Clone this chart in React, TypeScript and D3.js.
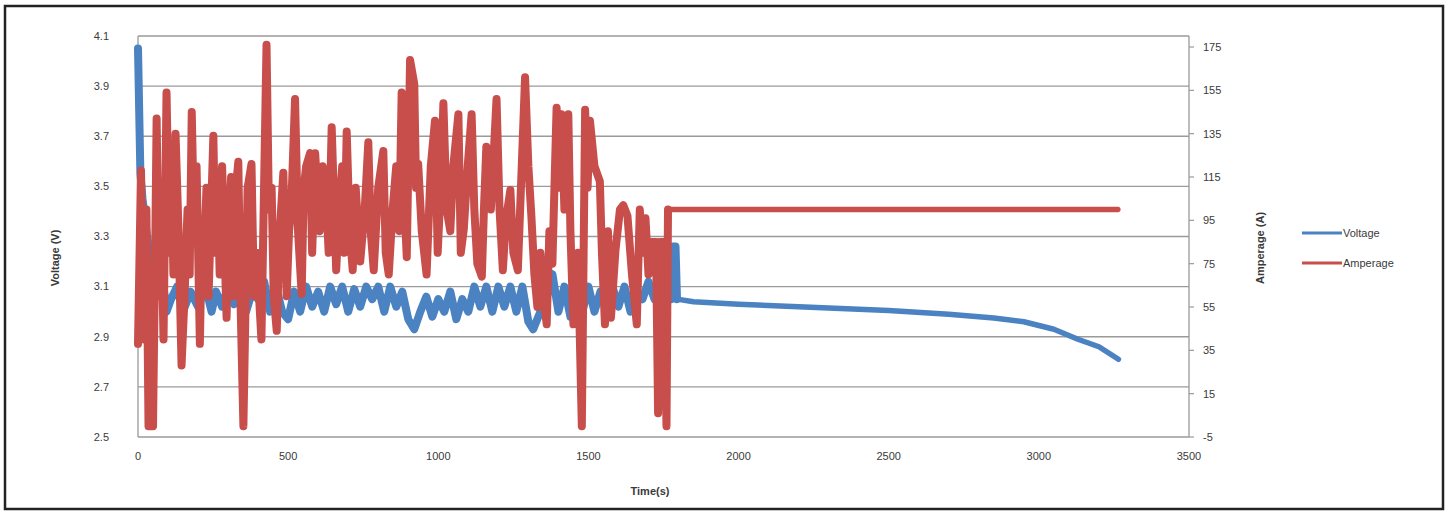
import React from "react";
import * as d3 from "d3";

const voltageTime = [0, 8, 15, 30, 60, 80, 95, 110, 130, 150, 175, 200, 225, 245, 260, 280, 300, 320, 340, 360, 380, 400, 420, 440, 460, 480, 500, 520, 540, 560, 580, 600, 620, 640, 660, 680, 700, 720, 740, 760, 780, 800, 820, 840, 860, 880, 900, 920, 940, 960, 980, 1000, 1020, 1040, 1060, 1080, 1100, 1120, 1140, 1160, 1180, 1200, 1220, 1240, 1260, 1280, 1300, 1316, 1340, 1360, 1380, 1400, 1420, 1440, 1460, 1480, 1500, 1520, 1540, 1560, 1580, 1600, 1620, 1640, 1660, 1680, 1700, 1720, 1740, 1760, 1775, 1780, 1790, 1795, 1850, 2000, 2200, 2500, 2700, 2850, 2950, 3050, 3130, 3200, 3265];
const voltage = [4.05, 3.55, 3.45, 3.3, 3.1, 3.15, 3.0, 3.05, 3.1, 3.0, 3.08, 3.02, 3.1, 3.0, 3.08, 3.02, 3.1, 3.03, 3.1, 3.0, 3.08, 3.05, 3.12, 3.0, 3.1, 3.0, 2.97, 3.08, 3.0, 3.1, 3.02, 3.08, 3.0, 3.1, 3.03, 3.1, 3.0, 3.09, 3.02, 3.1, 3.05, 3.1, 3.0, 3.1, 3.02, 3.08, 2.97, 2.93, 3.0, 3.06, 2.98, 3.05, 3.0, 3.08, 2.97, 3.05, 3.0, 3.1, 3.02, 3.1, 3.0, 3.1, 3.02, 3.1, 3.0, 3.1, 2.96, 2.93, 3.0, 3.05, 3.15, 3.0, 3.1, 2.98, 3.05, 3.0, 3.1, 3.0, 3.08, 3.0, 3.1, 3.02, 3.1, 3.0, 3.08, 3.05, 3.12, 3.05, 3.1, 3.05, 3.05, 3.26, 3.26, 3.05, 3.04, 3.03, 3.02, 3.005, 2.99, 2.975, 2.96, 2.93, 2.89, 2.86, 2.81];

const ampTime = [0, 10, 20, 28, 35, 50, 58, 62, 70, 75, 85, 95, 105, 110, 118, 125, 135, 145, 155, 165, 172, 179, 187, 195, 206, 213, 220, 228, 235, 251, 258, 265, 272, 280, 295, 302, 310, 318, 326, 334, 341, 351, 365, 378, 386, 395, 411, 428, 436, 445, 452, 462, 472, 484, 495, 503, 510, 523, 533, 545, 552, 560, 573, 580, 590, 605, 615, 625, 635, 645, 660, 670, 680, 687, 695, 705, 715, 725, 740, 755, 767, 775, 785, 800, 817, 825, 835, 848, 860, 870, 878, 888, 895, 906, 920, 926, 933, 945, 961, 975, 989, 998, 1008, 1017, 1028, 1040, 1050, 1067, 1075, 1085, 1098, 1111, 1120, 1130, 1145, 1152, 1160, 1175, 1194, 1204, 1215, 1225, 1240, 1250, 1265, 1289, 1300, 1310, 1320, 1330, 1340, 1350, 1361, 1370, 1380, 1394, 1402, 1410, 1420, 1433, 1440, 1450, 1465, 1478, 1489, 1497, 1505, 1520, 1538, 1545, 1555, 1565, 1575, 1590, 1605, 1616, 1630, 1645, 1661, 1671, 1680, 1690, 1700, 1710, 1725, 1732, 1740, 1750, 1760, 1765, 3263];
const amperage = [38, 118, 40, 100, 0, 0, 90, 142, 60, 110, 40, 154, 80, 124, 70, 135, 90, 28, 60, 100, 70, 145, 90, 120, 38, 90, 78, 110, 60, 134, 80, 110, 70, 120, 50, 90, 115, 60, 110, 122, 60, 0, 110, 121, 60, 80, 40, 176, 100, 110, 60, 44, 90, 117, 60, 90, 100, 151, 90, 61, 110, 120, 126, 80, 126, 90, 120, 110, 80, 138, 72, 100, 120, 80, 136, 90, 72, 110, 76, 100, 131, 90, 72, 110, 127, 80, 70, 100, 120, 90, 154, 100, 78, 169, 158, 110, 121, 90, 70, 120, 141, 80, 110, 149, 100, 90, 120, 144, 80, 91, 120, 144, 100, 75, 69, 100, 129, 100, 151, 100, 72, 95, 109, 80, 72, 161, 120, 97, 70, 55, 80, 60, 47, 90, 75, 147, 110, 144, 100, 144, 90, 47, 80, 0, 146, 110, 141, 120, 113, 80, 47, 90, 50, 81, 100, 102, 97, 70, 47, 100, 80, 96, 70, 85, 85, 6, 85, 85, 0, 100, 100];

const xTicks = [0, 500, 1000, 1500, 2000, 2500, 3000, 3500];
const voltTicks = [2.5, 2.7, 2.9, 3.1, 3.3, 3.5, 3.7, 3.9, 4.1];
const ampTicks = [-5, 15, 35, 55, 75, 95, 115, 135, 155, 175];
const seriesNames = ["Voltage", "Amperage"];

const BLUE = "#4a82c2";
const RED = "#c84e4c";
const FONT = "'Liberation Sans', Arial, sans-serif";
const TXT = "#3a3a3a";

export default function App() {
  const left = 138, right = 1189, top = 36, bottom = 437;
  const x = d3.scaleLinear().domain([0, 3500]).range([left, right]);
  const yV = d3.scaleLinear().domain([2.5, 4.1]).range([bottom, top]);
  const yA = d3.scaleLinear().domain([-5, 175]).range([bottom, 47]);

  const vData = voltageTime.map((t, i) => [t, voltage[i]] as [number, number]);
  const aData = ampTime.map((t, i) => [t, amperage[i]] as [number, number]);
  const vLine = d3.line<[number, number]>().x(d => x(d[0])).y(d => yV(d[1]));
  const aLine = d3.line<[number, number]>().x(d => x(d[0])).y(d => yA(d[1]));

  const vBefore = vData.filter(d => d[0] <= 1795);
  const vAfter = vData.filter(d => d[0] >= 1795);
  const aBefore = aData.filter(d => d[0] <= 1765);
  const aAfter = aData.filter(d => d[0] >= 1760);

  return (
    <svg width={1449} height={512} style={{ position: "absolute", left: 0, top: 0, background: "#fff" }}>
      <rect x={5} y={6} width={1438} height={503} fill="#fff" stroke="#222" strokeWidth={2.5} />
      {voltTicks.map(v => (
        <line key={"g" + v} x1={left} x2={right} y1={yV(v)} y2={yV(v)} stroke="#9a9a9a" strokeWidth={1.3} />
      ))}
      <line x1={left} x2={left} y1={top} y2={bottom} stroke="#9a9a9a" strokeWidth={1.3} />
      <line x1={right} x2={right} y1={top} y2={bottom} stroke="#9a9a9a" strokeWidth={1.3} />
      {ampTicks.map(a => (
        <line key={"t" + a} x1={right} x2={right + 5} y1={yA(a)} y2={yA(a)} stroke="#9a9a9a" strokeWidth={1.2} />
      ))}

      <path d={vLine(vBefore) || ""} fill="none" stroke={BLUE} strokeWidth={8} strokeLinejoin="round" strokeLinecap="round" />
      <path d={vLine(vAfter) || ""} fill="none" stroke={BLUE} strokeWidth={5.5} strokeLinejoin="round" strokeLinecap="round" />
      <path d={aLine(aBefore) || ""} fill="none" stroke={RED} strokeWidth={8} strokeLinejoin="round" strokeLinecap="round" />
      <path d={aLine(aAfter) || ""} fill="none" stroke={RED} strokeWidth={5.5} strokeLinejoin="round" strokeLinecap="round" />

      {voltTicks.map(v => (
        <text key={"vl" + v} x={109} y={yV(v)} dy="0.35em" textAnchor="end" fontFamily={FONT} fontSize={11} fill={TXT}>
          {v.toFixed(1)}
        </text>
      ))}
      {ampTicks.map(a => (
        <text key={"al" + a} x={1203} y={yA(a)} dy="0.35em" textAnchor="start" fontFamily={FONT} fontSize={11} fill={TXT}>
          {a}
        </text>
      ))}
      {xTicks.map(t => (
        <text key={"xl" + t} x={x(t)} y={456} dy="0.35em" textAnchor="middle" fontFamily={FONT} fontSize={11} fill={TXT}>
          {t}
        </text>
      ))}
      <text x={650} y={491} dy="0.35em" textAnchor="middle" fontFamily={FONT} fontSize={11} fontWeight="bold" fill={TXT}>
        Time(s)
      </text>
      <text transform="translate(55,258) rotate(-90)" dy="0.35em" textAnchor="middle" fontFamily={FONT} fontSize={11} fontWeight="bold" fill={TXT}>
        Voltage (V)
      </text>
      <text transform="translate(1260,248) rotate(-90)" dy="0.35em" textAnchor="middle" fontFamily={FONT} fontSize={11} fontWeight="bold" fill={TXT}>
        Amperage (A)
      </text>

      {seriesNames.map((n, i) => (
        <g key={n}>
          <line x1={1302} x2={1342} y1={233 + i * 30} y2={233 + i * 30} stroke={i === 0 ? BLUE : RED} strokeWidth={3} />
          <text x={1343} y={233 + i * 30} dy="0.35em" fontFamily={FONT} fontSize={11} fill={TXT}>{n}</text>
        </g>
      ))}
    </svg>
  );
}
